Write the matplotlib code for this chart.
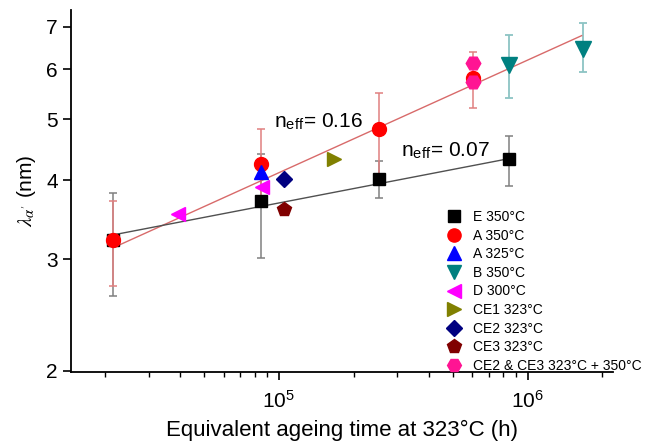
import matplotlib.pyplot as plt
from matplotlib.ticker import FixedLocator, NullLocator, FixedFormatter, LogLocator, NullFormatter

plt.rcParams['font.family'] = ['Liberation Sans', 'DejaVu Sans']
plt.rcParams['mathtext.fontset'] = 'stix'

# equivalent ageing time (h) and wavelength lambda (nm), with error bar limits
e_t = [2.16e4, 8.5e4, 2.53e5, 8.4e5]
e_l = [3.22, 3.71, 4.02, 4.32]
e_lo = [2.63, 3.02, 3.75, 3.92]
e_hi = [3.82, 4.41, 4.30, 4.71]

a_t = [2.16e4, 8.5e4, 2.53e5, 6.05e5]
a_l = [3.22, 4.25, 4.83, 5.82]
a_lo = [2.72, 3.68, 4.10, 5.21]
a_hi = [3.71, 4.82, 5.51, 6.39]

a325_t = [8.5e4]
a325_l = [4.13]

b_t = [8.4e5, 1.67e6]
b_l = [6.10, 6.46]
b_lo = [5.41, 5.93]
b_hi = [6.80, 7.10]

d_t = [3.92e4, 8.6e4]
d_l = [3.54, 3.90]

ce1_t = [1.67e5]
ce1_l = [4.32]
ce2_t = [1.05e5]
ce2_l = [4.02]
ce3_t = [1.05e5]
ce3_l = [3.61]
ce23_t = [6.05e5, 6.05e5]
ce23_l = [6.14, 5.73]

# fitted power laws (end points)
fit_a_t = [2.16e4, 1.65e6]
fit_a_l = [3.13, 6.78]
fit_e_t = [2.16e4, 8.4e5]
fit_e_l = [3.28, 4.33]

fig = plt.figure(figsize=(6.56, 4.45), dpi=100)
ax = fig.add_axes([0.108, 0.164, 0.826, 0.814])
ax.set_xscale('log')
ax.set_yscale('log')

def errs(v, lo, hi):
    return [[a - b for a, b in zip(v, lo)], [b - a for a, b in zip(v, hi)]]

ax.errorbar(e_t, e_l, yerr=errs(e_l, e_lo, e_hi), fmt='none', ecolor='#808080',
            elinewidth=1.1, capsize=3, capthick=1.1, zorder=1)
ax.errorbar(a_t, a_l, yerr=errs(a_l, a_lo, a_hi), fmt='none', ecolor='#e08080',
            elinewidth=1.1, capsize=3, capthick=1.1, zorder=1)
ax.errorbar(b_t, b_l, yerr=errs(b_l, b_lo, b_hi), fmt='none', ecolor='#8cc4c4',
            elinewidth=1.3, capsize=3, capthick=1.3, zorder=1)

ax.plot(fit_a_t, fit_a_l, color='#d86a6a', lw=1.0, zorder=2)
ax.plot(fit_e_t, fit_e_l, color='#505050', lw=1.0, zorder=2)

ax.plot(e_t, e_l, 's', color='black', ms=8.5, ls='none', label='E 350°C', zorder=3)
ax.plot(a_t, a_l, 'o', color='#ff0000', ms=10, ls='none', label='A 350°C', zorder=3)
ax.plot(a325_t, a325_l, '^', color='#0000ff', ms=10.5, ls='none', label='A 325°C', zorder=3)
ax.plot(b_t, b_l, 'v', color='#008080', ms=11, ls='none', label='B 350°C', zorder=3)
ax.plot(d_t, d_l, '<', color='#ff00ff', ms=10.5, ls='none', label='D 300°C', zorder=3)
ax.plot(ce1_t, ce1_l, '>', color='#808000', ms=10.5, ls='none', label='CE1 323°C', zorder=3)
ax.plot(ce2_t, ce2_l, 'D', color='#000080', ms=8.5, ls='none', label='CE2 323°C', zorder=3)
ax.plot(ce3_t, ce3_l, 'p', color='#800000', ms=10.5, ls='none', label='CE3 323°C', zorder=3)
ax.plot(ce23_t, ce23_l, 'H', color='#ff1493', ms=10.5, ls='none',
        label='CE2 & CE3 323°C + 350°C', zorder=4)

ax.text(9.55e4, 4.85, r"n$_{\mathregular{eff}}$= 0.16", fontsize=15, va='baseline')
ax.text(3.1e5, 4.37, r"n$_{\mathregular{eff}}$= 0.07", fontsize=15, va='baseline')

ax.set_xlim(1.46e4, 2.2e6)
ax.set_ylim(1.99, 7.45)

ax.yaxis.set_major_locator(FixedLocator([2, 3, 4, 5, 6, 7]))
ax.yaxis.set_major_formatter(FixedFormatter(['2', '3', '4', '5', '6', '7']))
ax.yaxis.set_minor_locator(NullLocator())
ax.xaxis.set_minor_locator(LogLocator(base=10, subs=range(2, 10)))
ax.xaxis.set_minor_formatter(NullFormatter())

for s in ['top', 'right']:
    ax.spines[s].set_visible(False)
for s in ['left', 'bottom']:
    ax.spines[s].set_linewidth(1.3)
ax.tick_params(which='major', direction='out', length=6, width=1.2, labelsize=15)
ax.tick_params(axis='x', which='major', pad=7)
ax.tick_params(which='minor', direction='out', length=3.5, width=1.0)

ax.set_xlabel('Equivalent ageing time at 323°C (h)', fontsize=16, labelpad=6)
ax.set_ylabel(r"$\lambda_{\alpha'}$ (nm)", fontsize=15, labelpad=6)

ax.legend(loc='upper left', bbox_to_anchor=(0.679, 0.528), bbox_transform=fig.transFigure,
          frameon=False, fontsize=10, handlelength=1.2, handletextpad=0.8,
          labelspacing=0.33, borderpad=0, borderaxespad=0, markerscale=0.95)

fig.savefig('out.png', dpi=100)
